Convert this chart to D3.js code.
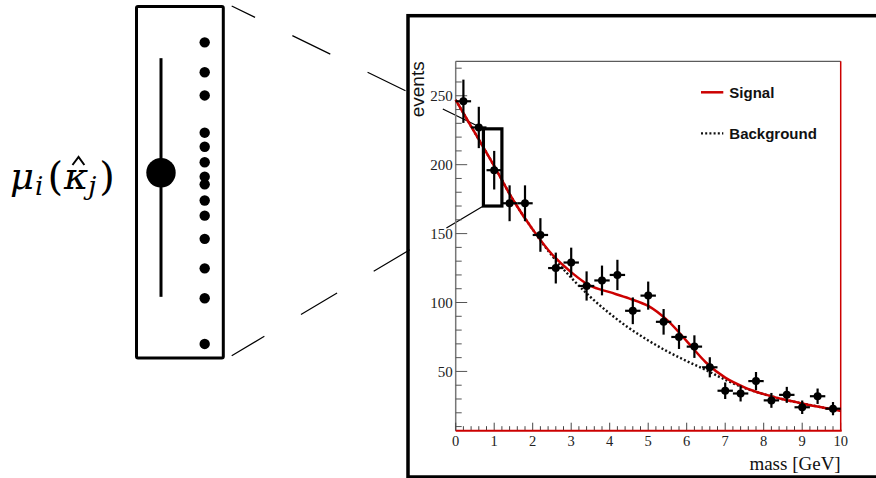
<!DOCTYPE html>
<html>
<head>
<meta charset="utf-8">
<script src="https://cdn.jsdelivr.net/npm/d3@7"></script>
<style>
  body { margin: 0; background: #fff; }
  svg { display: block; }
</style>
</head>
<body>
<script>
// histogram bins (bin centres, width 0.4 GeV)
const binCenters = [0.2, 0.6, 1.0, 1.4, 1.8, 2.2, 2.6, 3.0, 3.4, 3.8, 4.2, 4.6, 5.0, 5.4, 5.8, 6.2, 6.6, 7.0, 7.4, 7.8, 8.2, 8.6, 9.0, 9.4, 9.8];
const counts = [246, 227, 196, 172, 172, 149, 125, 129, 112, 116, 120, 94, 105, 86, 75, 68, 53, 36, 34, 43, 29, 33, 24, 32, 23];
const countErrors = [15.7, 15, 14, 13, 13, 12.2, 11.2, 10.8, 10.6, 10.8, 11, 9.7, 10.2, 9.3, 8.7, 8.2, 7.3, 6, 5.8, 6.6, 5.4, 5.8, 4.9, 5.6, 4.8];
const binHalfWidth = 0.2;

// fitted curves
const signalX = [0, 0.5, 1, 1.5, 2, 2.5, 3, 3.5, 4, 4.5, 5, 5.5, 6, 6.5, 7, 7.5, 8, 8.5, 9, 9.5, 10];
const signalY = [247, 223, 199, 174, 153, 135, 122, 112, 107.5, 103, 97.5, 87, 72, 56.5, 45.5, 38.5, 33.5, 29.8, 26.8, 24, 21.5];
const backgroundX = [0, 0.5, 1, 1.5, 2, 2.5, 3, 3.5, 4, 4.5, 5, 5.5, 6, 6.5, 7, 7.5, 8, 8.5, 9, 9.5, 10];
const backgroundY = [247, 223, 199, 174, 153, 134, 118, 104, 92, 81.5, 72.5, 64.5, 57.5, 51, 44, 38, 33.5, 29.8, 26.8, 24, 21.5];

// axis ticks
const xTicks = [0, 1, 2, 3, 4, 5, 6, 7, 8, 9, 10];
const yTicks = [50, 100, 150, 200, 250];

// zoomed-in box (data units) and the sample column on the left
const zoomBoxX = [0.72, 1.2];
const zoomBoxY = [170, 226];
const sampleDots = [10.2, 18.7, 25.3, 35.9, 39.9, 44.3, 48.4, 50.6, 55.2, 59.5, 66.1, 74.5, 83.0, 96.0];
const sampleMean = 47.3;
const sampleSpread = [14.7, 82.6];

const width = 876, height = 478;
const svg = d3.select("body").append("svg")
  .attr("width", width)
  .attr("height", height);

const plot = { left: 455.7, right: 840.7, top: 61.3, bottom: 430.7 };
const x = d3.scaleLinear().domain([0, 10]).range([plot.left, plot.right]);
const y = d3.scaleLinear().domain([7, 275]).range([plot.bottom, plot.top]);

// ---- left panel
const panel = { left: 136.5, right: 223.3, top: 6.5, bottom: 358 };
const py = d3.scaleLinear().domain([0, 100]).range([panel.top, panel.bottom]);

svg.append("rect")
  .attr("x", panel.left).attr("y", panel.top)
  .attr("width", panel.right - panel.left).attr("height", panel.bottom - panel.top)
  .attr("rx", 1.5)
  .attr("fill", "none").attr("stroke", "#000").attr("stroke-width", 3);

svg.append("line")
  .attr("x1", 161).attr("x2", 161)
  .attr("y1", py(sampleSpread[0])).attr("y2", py(sampleSpread[1]))
  .attr("stroke", "#000").attr("stroke-width", 3);

svg.append("circle")
  .attr("cx", 161).attr("cy", py(sampleMean)).attr("r", 14.7)
  .attr("fill", "#000");

svg.selectAll("circle.sample")
  .data(sampleDots)
  .enter().append("circle")
  .attr("class", "sample")
  .attr("cx", 204.7).attr("cy", d => py(d)).attr("r", 5.2)
  .attr("fill", "#000");

// math label mu_i(kappa-hat_j), laid out piece by piece
const mathFont = "DejaVu Serif, Liberation Serif, serif";
const pieces = [
  { t: "μ", size: 37, italic: true, dy: 0, gap: 0 },
  { t: "i", size: 26, italic: true, dy: 6, gap: 1 },
  { t: "(", size: 40, italic: false, dy: 1, gap: 4 },
  { t: "κ", size: 37, italic: true, dy: 0, gap: 1, hat: true },
  { t: "j", size: 26, italic: true, dy: 6, gap: 0 },
  { t: ")", size: 40, italic: false, dy: 1, gap: 3 }
];
let cx = 10;
const baseY = 189;
pieces.forEach(p => {
  cx += p.gap;
  const t = svg.append("text")
    .attr("x", cx).attr("y", baseY + p.dy)
    .attr("font-family", mathFont)
    .attr("font-size", p.size)
    .attr("font-style", p.italic ? "italic" : "normal")
    .attr("fill", "#000")
    .text(p.t);
  const w = t.node().getComputedTextLength();
  if (p.hat) {
    svg.append("path")
      .attr("d", "M" + (cx + w * 0.35) + "," + (baseY - 24) + " L" + (cx + w * 0.6) + "," + (baseY - 32) + " L" + (cx + w * 0.84) + "," + (baseY - 24))
      .attr("fill", "none").attr("stroke", "#000").attr("stroke-width", 2);
  }
  cx += w;
});

// ---- outer frame around the plot
svg.append("rect")
  .attr("x", 408).attr("y", 15.7)
  .attr("width", 480).attr("height", 461.3)
  .attr("fill", "none").attr("stroke", "#000").attr("stroke-width", 3.5);

// ---- connectors from panel to zoom box
const boxL = x(zoomBoxX[0]);
svg.append("line")
  .attr("x1", 231.7).attr("y1", 6)
  .attr("x2", boxL).attr("y2", y(zoomBoxY[1]))
  .attr("stroke", "#000").attr("stroke-width", 1.2)
  .attr("stroke-dasharray", "26,41.5,42.2,41.5,42.2,41.5,42.2,41.5");
svg.append("line")
  .attr("x1", 231.7).attr("y1", 355.7)
  .attr("x2", boxL).attr("y2", y(zoomBoxY[0]))
  .attr("stroke", "#000").attr("stroke-width", 1.2)
  .attr("stroke-dasharray", "38,42.6,42,42.6,42,42.6,42,42.6");

// ---- plot frame and axes
svg.append("line")
  .attr("x1", plot.left).attr("x2", plot.right)
  .attr("y1", plot.top).attr("y2", plot.top)
  .attr("stroke", "#333").attr("stroke-width", 1);
svg.append("line")
  .attr("x1", plot.left).attr("x2", plot.left)
  .attr("y1", plot.top).attr("y2", plot.bottom)
  .attr("stroke", "#777").attr("stroke-width", 1.5);

// y ticks
const yMinor = d3.range(10, 275, 10);
svg.selectAll("line.ymin")
  .data(yMinor)
  .enter().append("line")
  .attr("x1", plot.left).attr("x2", d => plot.left + (d % 50 === 0 ? 11.5 : 6))
  .attr("y1", d => y(d)).attr("y2", d => y(d))
  .attr("stroke", "#555").attr("stroke-width", 1);
svg.selectAll("text.ylab")
  .data(yTicks)
  .enter().append("text")
  .attr("x", plot.left - 3).attr("y", d => y(d)).attr("dy", "0.35em")
  .attr("text-anchor", "end")
  .attr("font-family", "Liberation Serif, serif").attr("font-size", 15)
  .attr("fill", "#222")
  .text(d => d);

// x ticks
const xMinor = d3.range(0, 51).map(i => i / 5);
svg.selectAll("line.xmin")
  .data(xMinor)
  .enter().append("line")
  .attr("x1", d => x(d)).attr("x2", d => x(d))
  .attr("y1", plot.bottom)
  .attr("y2", (d, i) => plot.bottom - (i % 5 === 0 ? 8 : 4.5))
  .attr("stroke", "#444").attr("stroke-width", 1);
svg.selectAll("text.xlab")
  .data(xTicks)
  .enter().append("text")
  .attr("x", d => x(d)).attr("y", 446)
  .attr("text-anchor", "middle")
  .attr("font-family", "Liberation Serif, serif").attr("font-size", 14.5)
  .attr("fill", "#222")
  .text(d => d);

svg.append("text")
  .attr("x", plot.right).attr("y", 470)
  .attr("text-anchor", "end")
  .attr("font-family", "Liberation Serif, serif").attr("font-size", 19)
  .attr("fill", "#111")
  .text("mass [GeV]");

svg.append("text")
  .attr("transform", "translate(424," + plot.top + ") rotate(-90)")
  .attr("text-anchor", "end")
  .attr("font-family", "Liberation Sans, Arial, sans-serif").attr("font-size", 19)
  .attr("fill", "#111")
  .text("events");

// red bottom and right edges
svg.append("line")
  .attr("x1", plot.left).attr("x2", plot.right + 1)
  .attr("y1", plot.bottom).attr("y2", plot.bottom)
  .attr("stroke", "#cc0000").attr("stroke-width", 2);
svg.append("line")
  .attr("x1", plot.right).attr("x2", plot.right)
  .attr("y1", plot.top).attr("y2", plot.bottom)
  .attr("stroke", "#cc0000").attr("stroke-width", 1.5);

// ---- curves
const bgLine = d3.line()
  .x((d, i) => x(backgroundX[i]))
  .y(d => y(d))
  .curve(d3.curveCatmullRom);
svg.append("path")
  .attr("d", bgLine(backgroundY))
  .attr("fill", "none").attr("stroke", "#111")
  .attr("stroke-width", 2.4).attr("stroke-dasharray", "2,2.2");

const sigLine = d3.line()
  .x((d, i) => x(signalX[i]))
  .y(d => y(d))
  .curve(d3.curveCatmullRom);
svg.append("path")
  .attr("d", sigLine(signalY))
  .attr("fill", "none").attr("stroke", "#cc0000")
  .attr("stroke-width", 2.5);

// ---- data points with error bars
const pts = svg.append("g");
binCenters.forEach((c, i) => {
  pts.append("line")
    .attr("x1", x(c)).attr("x2", x(c))
    .attr("y1", y(counts[i] - countErrors[i])).attr("y2", y(counts[i] + countErrors[i]))
    .attr("stroke", "#000").attr("stroke-width", 2.2);
  pts.append("line")
    .attr("x1", x(c - binHalfWidth)).attr("x2", x(c + binHalfWidth))
    .attr("y1", y(counts[i])).attr("y2", y(counts[i]))
    .attr("stroke", "#000").attr("stroke-width", 2.2);
  pts.append("circle")
    .attr("cx", x(c)).attr("cy", y(counts[i])).attr("r", 4)
    .attr("fill", "#000");
});

// ---- zoom box
svg.append("rect")
  .attr("x", x(zoomBoxX[0])).attr("y", y(zoomBoxY[1]))
  .attr("width", x(zoomBoxX[1]) - x(zoomBoxX[0]))
  .attr("height", y(zoomBoxY[0]) - y(zoomBoxY[1]))
  .attr("fill", "none").attr("stroke", "#000").attr("stroke-width", 3.2);

// ---- legend
const leg = svg.append("g");
leg.append("line")
  .attr("x1", 701).attr("x2", 723.3).attr("y1", 92.3).attr("y2", 92.3)
  .attr("stroke", "#cc0000").attr("stroke-width", 2.5);
leg.append("text")
  .attr("x", 729.3).attr("y", 97.5)
  .attr("font-family", "Liberation Sans, Arial, sans-serif").attr("font-size", 15)
  .attr("font-weight", "bold").attr("fill", "#111")
  .text("Signal");
leg.append("line")
  .attr("x1", 701).attr("x2", 723.3).attr("y1", 133.3).attr("y2", 133.3)
  .attr("stroke", "#111").attr("stroke-width", 2.2).attr("stroke-dasharray", "2,2.2");
leg.append("text")
  .attr("x", 729.3).attr("y", 138.5)
  .attr("font-family", "Liberation Sans, Arial, sans-serif").attr("font-size", 15)
  .attr("font-weight", "bold").attr("fill", "#111")
  .text("Background");
</script>
</body>
</html>
